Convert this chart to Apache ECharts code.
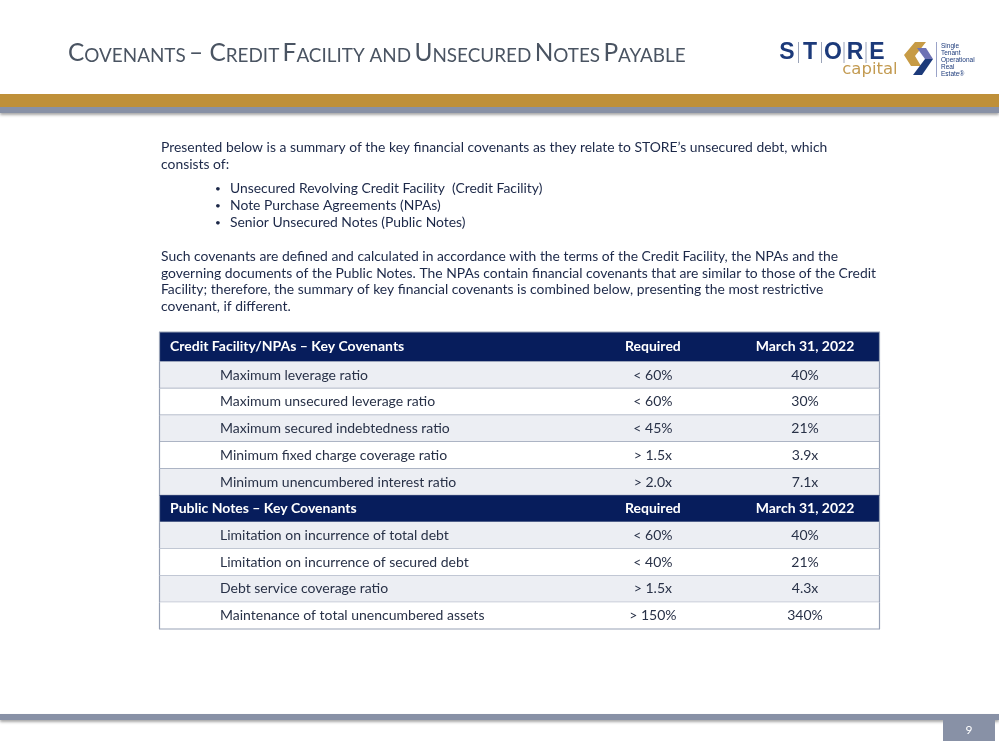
<!DOCTYPE html>
<html><head><meta charset="utf-8">
<script src="https://cdn.jsdelivr.net/npm/echarts@6/dist/echarts.min.js"></script>
<style>html,body{margin:0;padding:0;background:#fff}#c{width:999px;height:750px}</style>
</head><body><div id="c"></div>
<script>
// ---- data ----
const rowTypes = ['h','r','r','r','r','r','h','r','r','r','r'];
const rowLabels = [
  'Credit Facility/NPAs \u2013 Key Covenants',
  'Maximum leverage ratio',
  'Maximum unsecured leverage ratio',
  'Maximum secured indebtedness ratio',
  'Minimum fixed charge coverage ratio',
  'Minimum unencumbered interest ratio',
  'Public Notes \u2013 Key Covenants',
  'Limitation on incurrence of total debt',
  'Limitation on incurrence of secured debt',
  'Debt service coverage ratio',
  'Maintenance of total unencumbered assets'
];
const requiredVals = ['Required','< 60%','< 60%','< 45%','> 1.5x','> 2.0x','Required','< 60%','< 40%','> 1.5x','> 150%'];
const actualVals = ['March 31, 2022','40%','30%','21%','3.9x','7.1x','March 31, 2022','40%','21%','4.3x','340%'];
const introLines = [
  'Presented below is a summary of the key financial covenants as they relate to STORE\u2019s unsecured debt, which',
  'consists of:'
];
const bulletLines = [
  'Unsecured Revolving Credit Facility  (Credit Facility)',
  'Note Purchase Agreements (NPAs)',
  'Senior Unsecured Notes (Public Notes)'
];
const paraLines = [
  'Such covenants are defined and calculated in accordance with the terms of the Credit Facility, the NPAs and the',
  'governing documents of the Public Notes. The NPAs contain financial covenants that are similar to those of the Credit',
  'Facility; therefore, the summary of key financial covenants is combined below, presenting the most restrictive',
  'covenant, if different.'
];
const logoLetters = ['S','T','O','R','E'];
const logoTagline = ['Single','Tenant','Operational','Real','Estate\u00ae'];

// ---- style ----
const FONT = 'Lato';
const NAVY = '#071d5c';
const BODY = '#1c2848';
const CELL = '#283147';
const LIGHT = '#eceef3';
const LINE = '#97a1b5';

const chart = echarts.init(document.getElementById('c'), null, {renderer:'canvas'});

const g = [];
// title (small caps)
g.push({type:'text', left:68, top:41, style:{
  text:'{b|C}{s|OVENANTS} {b|\u2013 C}{s|REDIT} {b|F}{s|ACILITY AND} {b|U}{s|NSECURED} {b|N}{s|OTES} {b|P}{s|AYABLE}',
  rich:{
    b:{fontFamily:FONT, fontSize:24.4, fill:'#4a5462', verticalAlign:'bottom', lineHeight:28},
    s:{fontFamily:FONT, fontSize:18.9, fill:'#4a5462', verticalAlign:'bottom', lineHeight:28}
  }
}});
// top bars
g.push({type:'rect', shape:{x:0,y:107,width:999,height:6}, style:{fill:'#8891a6', shadowBlur:3, shadowColor:'rgba(0,0,0,0.35)', shadowOffsetY:2}});
g.push({type:'rect', shape:{x:0,y:94,width:999,height:13}, style:{fill:'#bf9039'}});
// bottom bar + page number
g.push({type:'rect', shape:{x:0,y:714,width:999,height:6}, style:{fill:'#8891a6', shadowBlur:3, shadowColor:'rgba(0,0,0,0.35)', shadowOffsetY:2}});
g.push({type:'rect', shape:{x:943,y:720,width:52,height:21}, style:{fill:'#8891a6'}});
g.push({type:'text', x:969, y:730, style:{text:'9', fontFamily:FONT, fontSize:12, fill:'#fff', align:'center', verticalAlign:'middle'}});

// logo
const letterX = [787, 810, 833, 855, 877];
logoLetters.forEach((L,i)=>{
  g.push({type:'text', x:letterX[i], y:53, style:{text:L, fontFamily:'Liberation Sans', fontWeight:'bold', fontSize:23, fill:'#1c3a7a', align:'center', verticalAlign:'middle'}});
});
[798.5, 821.5, 844, 866].forEach(x=>{
  g.push({type:'line', shape:{x1:x,y1:42,x2:x,y2:63}, style:{stroke:'#9aa3b8', lineWidth:1}});
});
g.push({type:'text', x:870, y:70, style:{text:'capital', fontFamily:'DejaVu Sans', fontSize:16.5, fill:'#c39b52', align:'center', verticalAlign:'middle'}});
g.push({type:'polygon', shape:{points:[[915,42],[926,42],[915,56],[921,66],[911,66],[904,55]]}, style:{fill:'#c79b45'}});
g.push({type:'polygon', shape:{points:[[917,48],[926,48],[933,59],[925,59]]}, style:{fill:'#6e72b4'}});
g.push({type:'polygon', shape:{points:[[925,59],[933,59],[922,75],[913,75]]}, style:{fill:'#1c3a7a'}});
g.push({type:'line', shape:{x1:936.5,y1:42,x2:936.5,y2:77}, style:{stroke:'#9aa3c8', lineWidth:1}});
logoTagline.forEach((t,i)=>{
  g.push({type:'text', x:941, y:46 + i*7, style:{text:t, fontFamily:'Liberation Sans', fontSize:6.5, fill:'#1c3a7a', verticalAlign:'middle'}});
});

// body text
const tstyle = (t)=>({text:t, fontFamily:FONT, fontSize:13.9, fill:BODY, verticalAlign:'middle'});
introLines.forEach((t,i)=>g.push({type:'text', x:161, y:148 + i*16.7, style:tstyle(t)}));
bulletLines.forEach((t,i)=>{
  g.push({type:'text', x:215, y:189 + i*17, style:{text:'\u2022', fontFamily:FONT, fontSize:10, fill:BODY, verticalAlign:'middle'}});
  g.push({type:'text', x:230, y:189 + i*17, style:tstyle(t)});
});
paraLines.forEach((t,i)=>g.push({type:'text', x:161, y:257 + i*16.5, style:tstyle(t)}));

const REQ_X = 0.685, ACT_X = 0.896;

chart.setOption({
  animation:false,
  grid:{left:159, right:119, top:335, bottom:121},
  xAxis:{type:'value', min:0, max:1, show:false},
  yAxis:{type:'category', inverse:true, data:rowLabels.map((_,i)=>i), show:false},
  graphic:g,
  series:[{
    type:'custom',
    coordinateSystem:'cartesian2d',
    data:rowLabels.map((_,i)=>[0,i]),
    encode:{x:0,y:1},
    renderItem:function(params, api){
      const i = api.value(1);
      const c = api.coord([0,i]);
      let h = api.size([0,1])[1];
      const cs = params.coordSys;
      let top = c[1]-h/2;
      let cy = c[1];
      if(i===0){ top -= 3; h += 3; cy -= 1.5; }
      const head = rowTypes[i]==='h';
      let k = 0; for(let j=i;j>=0 && rowTypes[j]!=='h';j--) k++;
      const fill = head ? NAVY : (k%2===1 ? LIGHT : '#ffffff');
      const color = head ? '#ffffff' : CELL;
      const fw = head ? 'bold' : 'normal';
      const reqX = api.coord([REQ_X,i])[0];
      const actX = api.coord([ACT_X,i])[0];
      const children = [
        {type:'rect', shape:{x:cs.x, y:top, width:cs.width, height:h}, style:{fill:fill}},
        {type:'line', shape:{x1:cs.x, y1:top+h, x2:cs.x+cs.width, y2:top+h}, style:{stroke:LINE, lineWidth:1.2}},
        {type:'text', x:cs.x + (head?11:61), y:cy, style:{text:rowLabels[i], fontFamily:FONT, fontSize:14, fontWeight:fw, fill:color, verticalAlign:'middle'}},
        {type:'text', x:reqX, y:cy, style:{text:requiredVals[i], fontFamily:FONT, fontSize:14, fontWeight:fw, fill:color, align:'center', verticalAlign:'middle'}},
        {type:'text', x:actX, y:cy, style:{text:actualVals[i], fontFamily:FONT, fontSize:14, fontWeight:fw, fill:color, align:'center', verticalAlign:'middle'}}
      ];
      if(i===0) children.push({type:'line', shape:{x1:cs.x, y1:top, x2:cs.x+cs.width, y2:top}, style:{stroke:LINE, lineWidth:1.2}});
      children.push({type:'line', shape:{x1:cs.x+0.5, y1:top, x2:cs.x+0.5, y2:top+h}, style:{stroke:LINE, lineWidth:1.2}});
      children.push({type:'line', shape:{x1:cs.x+cs.width-0.5, y1:top, x2:cs.x+cs.width-0.5, y2:top+h}, style:{stroke:LINE, lineWidth:1.2}});
      return {type:'group', children:children};
    }
  }]
});
</script></body></html>
